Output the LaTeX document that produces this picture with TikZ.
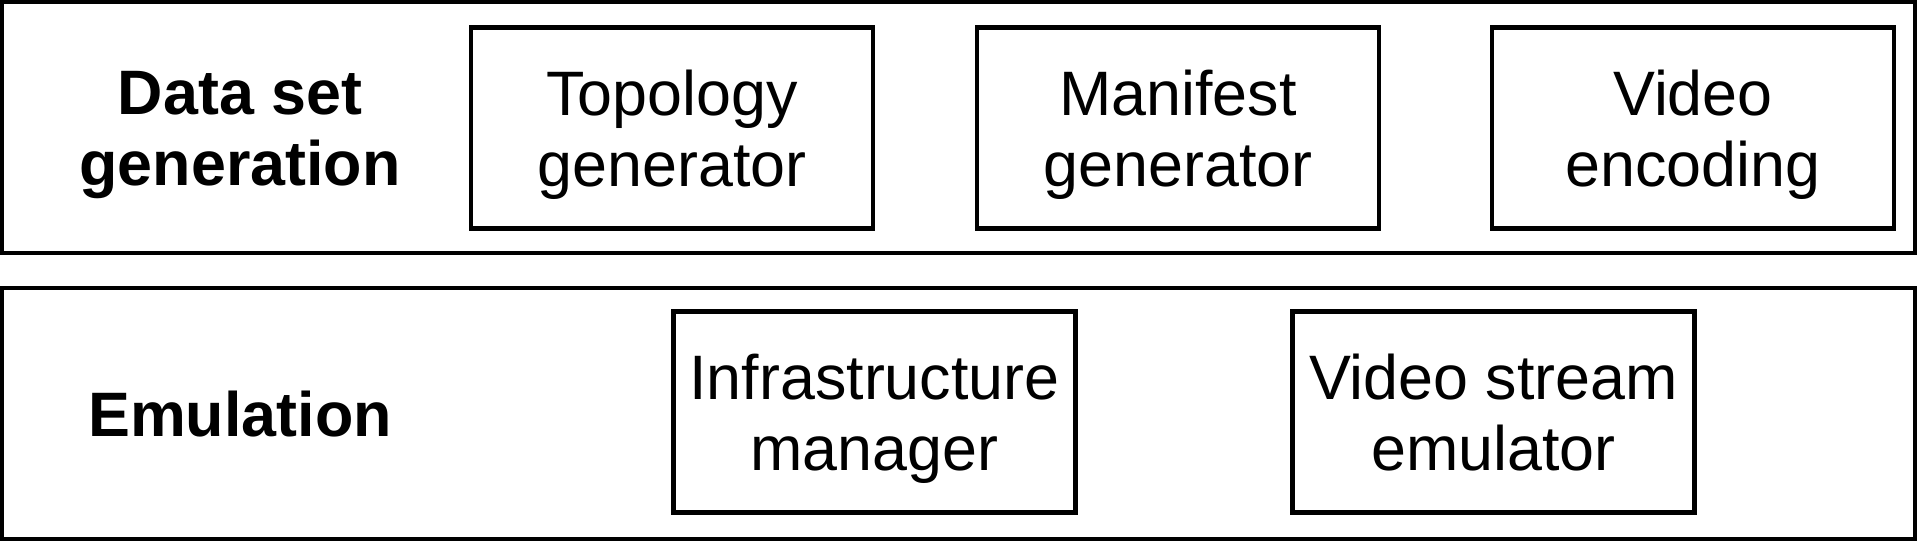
\documentclass[tikz,border=0pt]{standalone}
\usepackage{fontspec}
\setmainfont{Liberation Sans}

\begin{document}
\begin{tikzpicture}[
  x=0.5pt,y=-0.5pt,
  every node/.style={align=center,text depth=0pt,font=\fontsize{31.4}{35.5}\selectfont},
  layer/.style={draw,line width=2.4pt,minimum width=956.5pt,minimum height=125.5pt,inner sep=0pt},
  block/.style={draw,line width=2.4pt,minimum width=201pt,minimum height=100.5pt,inner sep=0pt},
  title/.style={font=\fontsize{31.4}{35.5}\selectfont\bfseries}]

  \useasboundingbox (0,0) rectangle (1920,545);

  % The two layers
  \node[layer] (dsg) at (958.5,127.5) {};
  \node[layer] (emu) at (958.5,413.5) {};

  \node[title] (dsglabel) at (240,128) {Data set\\generation};
  \node[title] (emulabel) at (240,414) {Emulation};

  % Blocks of the first layer
  \node[block] (topo) at (672,128) {Topology\\generator};
  \node[block] (mani) at (1178,128) {Manifest\\generator};
  \node[block] (venc) at (1693,128) {Video\\encoding};

  % Blocks of the second layer
  \node[block] (infra) at (874.5,412) {Infrastructure\\manager};
  \node[block] (vstream) at (1493.5,412) {Video stream\\emulator};

\end{tikzpicture}
\end{document}
